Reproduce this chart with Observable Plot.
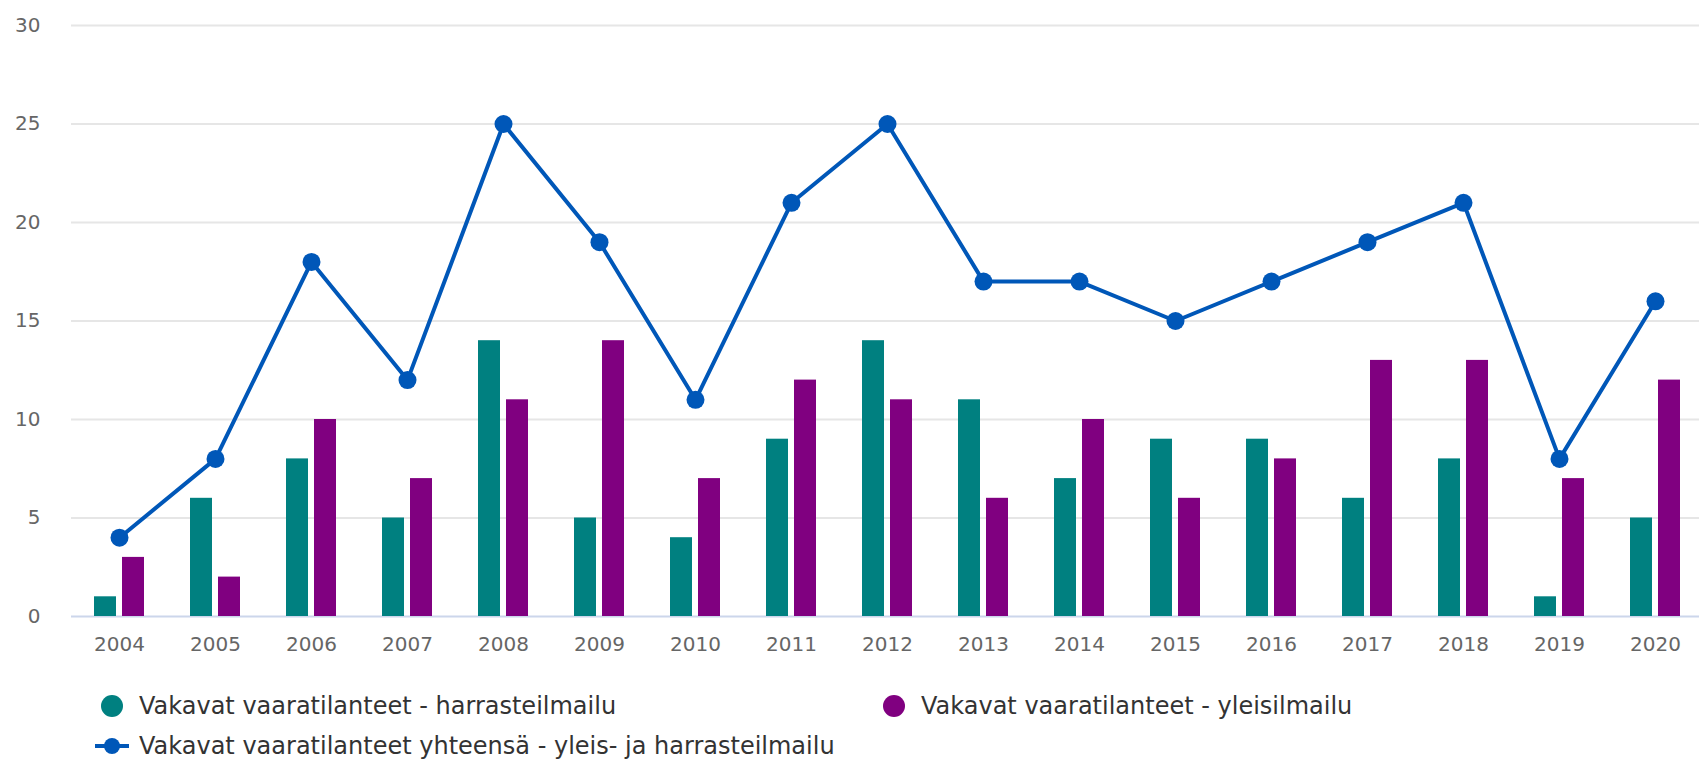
<!DOCTYPE html>
<html><head><meta charset="utf-8">
<script src="https://cdn.jsdelivr.net/npm/d3@7"></script>
<script src="https://cdn.jsdelivr.net/npm/@observablehq/plot@0.6"></script>
<style>
body{margin:0;background:#fff;font-family:"DejaVu Sans",sans-serif;}
#wrap{position:relative;width:1699px;height:760px;overflow:hidden;background:#fff;}
.leg{position:absolute;font-size:24px;line-height:30px;height:30px;color:#333;white-space:nowrap;}
.leg svg{position:absolute;top:0;}
.leg span{position:absolute;top:0;}
</style></head><body>
<div id="wrap"><div id="chart"></div><div id="legend"></div></div>
<script>
const years = [2004,2005,2006,2007,2008,2009,2010,2011,2012,2013,2014,2015,2016,2017,2018,2019,2020];
const harrasteilmailu = [1,6,8,5,14,5,4,9,14,11,7,9,9,6,8,1,5];
const yleisilmailu = [3,2,10,7,11,14,7,12,11,6,10,6,8,13,13,7,12];
const yhteensa = [4,8,18,12,25,19,11,21,25,17,17,15,17,19,21,8,16];
const yTicks = [0,5,10,15,20,25,30];
const seriesNames = ["Vakavat vaaratilanteet - harrasteilmailu","Vakavat vaaratilanteet - yleisilmailu","Vakavat vaaratilanteet yhteensä - yleis- ja harrasteilmailu"];
const colors = ["#008080","#800080","#0057b8"];

const rows = years.map((y,i)=>({year:String(y), h:harrasteilmailu[i], g:yleisilmailu[i], t:yhteensa[i]}));

const chart = Plot.plot({
  width: 1699, height: 670,
  marginTop: 25, marginBottom: 54, marginLeft: 71, marginRight: -4,
  style: {fontFamily: "DejaVu Sans", fontSize: "20px", color: "#666", background: "#fff"},
  x: {type: "band", domain: years.map(String), padding: 0, label: null, tickSize: 0, tickPadding: 20},
  y: {domain: [0,30], ticks: yTicks, label: null, tickSize: 0, tickPadding: 31},
  marks: [
    Plot.ruleY(yTicks.filter(t => t > 0), {stroke: "#e6e6e6", strokeWidth: 2}),
    Plot.ruleY([0], {stroke: "#ccd6eb", strokeWidth: 2}),
    Plot.barY(rows, {x: "year", y: "h", fill: colors[0], insetLeft: 37, insetRight: 37, dx: -14}),
    Plot.barY(rows, {x: "year", y: "g", fill: colors[1], insetLeft: 37, insetRight: 37, dx: 14}),
    Plot.line(rows, {x: "year", y: "t", stroke: colors[2], strokeWidth: 4}),
    Plot.dot(rows, {x: "year", y: "t", r: 9, fill: colors[2], stroke: "none"})
  ]
});
document.getElementById("chart").appendChild(chart);

const legend = document.getElementById("legend");
const items = [
  {left: 95, top: 691, name: seriesNames[0], color: colors[0], line: false},
  {left: 877, top: 691, name: seriesNames[1], color: colors[1], line: false},
  {left: 95, top: 731, name: seriesNames[2], color: colors[2], line: true}
];
for (const it of items) {
  const d = document.createElement("div");
  d.className = "leg";
  d.style.left = it.left + "px";
  d.style.top = it.top + "px";
  const marker = it.line
    ? `<svg width="34" height="30"><line x1="0" x2="34" y1="15" y2="15" stroke="${it.color}" stroke-width="4"/><circle cx="17" cy="15" r="8" fill="${it.color}"/></svg>`
    : `<svg width="34" height="30"><circle cx="17" cy="15" r="11" fill="${it.color}"/></svg>`;
  d.innerHTML = marker + `<span style="left:44px">${it.name}</span>`;
  legend.appendChild(d);
}
</script>
</body></html>
